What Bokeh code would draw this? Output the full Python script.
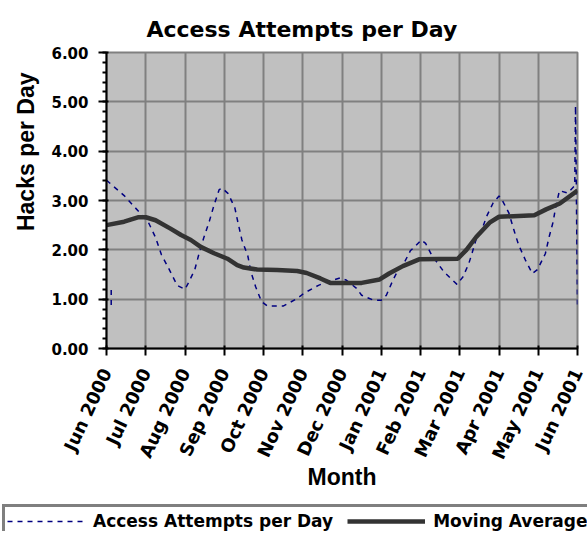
import math
from bokeh.plotting import figure
from bokeh.layouts import column, row
from bokeh.models import (Range1d, FixedTicker, SingleIntervalTicker, NumeralTickFormatter,
                          Legend, LegendItem, Title)
from bokeh.embed import file_html
from bokeh.resources import INLINE

# ---- data (x = months since Jun 2000) ----
months = ["Jun 2000", "Jul 2000", "Aug 2000", "Sep 2000", "Oct 2000", "Nov 2000",
          "Dec 2000", "Jan 2001", "Feb 2001", "Mar 2001", "Apr 2001", "May 2001", "Jun 2001"]

attempts_x = [0.12, 0.12, float("nan"),
              0.0, 0.13, 0.45, 0.85, 1.06, 1.25, 1.4, 1.6, 1.8, 2.0, 2.08, 2.25, 2.35, 2.48,
              2.62, 2.73, 2.87, 2.95, 3.1, 3.27, 3.35, 3.45, 3.6, 3.68, 3.8, 3.95, 4.1, 4.5,
              4.85, 5.0, 5.1, 5.4, 5.55, 5.78, 5.95, 6.1, 6.37, 6.5, 6.8, 7.0, 7.13, 7.3,
              7.43, 7.6, 7.74, 7.85, 8.02, 8.13, 8.28, 8.6, 8.93, 9.08, 9.23, 9.32, 9.43,
              9.57, 9.68, 9.85, 10.0, 10.06, 10.25, 10.38, 10.5, 10.68, 10.85, 10.98, 11.18,
              11.28, 11.38, 11.44, 11.54, 11.75, 11.93, 11.95, 12.0]
attempts_y = [0.88, 1.22, float("nan"),
              3.41, 3.32, 3.1, 2.75, 2.57, 2.25, 1.9, 1.6, 1.28, 1.2, 1.32, 1.6, 1.9, 2.25,
              2.58, 2.88, 3.22, 3.25, 3.14, 2.85, 2.55, 2.2, 1.88, 1.55, 1.25, 0.95, 0.86, 0.86,
              1.01, 1.1, 1.15, 1.28, 1.33, 1.39, 1.43, 1.39, 1.22, 1.08, 0.98, 0.98, 1.08, 1.39,
              1.59, 1.76, 1.98, 2.06, 2.2, 2.13, 1.9, 1.55, 1.3, 1.45, 1.72, 1.95, 2.25,
              2.42, 2.67, 2.95, 3.09, 3.04, 2.75, 2.4, 2.1, 1.78, 1.52, 1.6, 1.92,
              2.27, 2.57, 2.85, 3.2, 3.15, 3.3, 4.92, 0.8]

moving_x = [0.0, 0.45, 0.8, 1.0, 1.25, 1.63, 1.9, 2.15, 2.4, 2.74, 3.08, 3.33, 3.5, 3.84,
            4.35, 4.86, 5.1, 5.45, 5.7, 6.5, 6.96, 7.2, 7.55, 7.98, 8.95, 9.17, 9.42, 9.76,
            10.0, 10.9, 11.2, 11.55, 12.0]
moving_y = [2.5, 2.57, 2.66, 2.66, 2.6, 2.43, 2.3, 2.2, 2.06, 1.93, 1.82, 1.69, 1.64, 1.6,
            1.59, 1.57, 1.53, 1.42, 1.33, 1.33, 1.4, 1.52, 1.67, 1.81, 1.82, 2.0, 2.26, 2.55,
            2.67, 2.7, 2.82, 2.94, 3.2]

y_ticks = [0, 1, 2, 3, 4, 5, 6]

ATT_STYLE = dict(line_color="#000080", line_width=1.5, line_dash="5 5")
MA_STYLE = dict(line_color="#333333", line_width=4.5)

p = figure(width=587, height=502, output_backend="svg", toolbar_location=None,
           x_range=Range1d(0, len(months) - 1), y_range=Range1d(0, 6),
           min_border_left=106, min_border_right=10, min_border_top=52, min_border_bottom=154)

p.background_fill_color = "#C0C0C0"
p.border_fill_color = "white"
p.outline_line_color = "#808080"
p.outline_line_width = 2

# title
p.title.text = "Access Attempts per Day"
p.title.text_font = "DejaVu Sans"
p.title.text_font_style = "bold"
p.title.text_font_size = "22px"
p.title.text_color = "black"
p.title.align = "left"
p.title.offset = 40
p.title.standoff = 22

# x axis
xa = p.xaxis[0]
xa.ticker = FixedTicker(ticks=list(range(len(months))))
xa.major_label_overrides = {i: m for i, m in enumerate(months)}
xa.major_label_orientation = math.radians(65)
xa.major_label_text_font = "DejaVu Sans"
xa.major_label_text_font_style = "bold"
xa.major_label_text_font_size = "18px"
xa.major_label_text_color = "black"
xa.major_label_standoff = 14
xa.axis_line_color = "black"
xa.axis_line_width = 2
xa.major_tick_line_color = "black"
xa.major_tick_line_width = 2
xa.major_tick_out = 7
xa.major_tick_in = 3
xa.minor_tick_line_color = None
xa.axis_label = "Month"
xa.axis_label_text_font = "Liberation Sans"
xa.axis_label_text_font_style = "bold"
xa.axis_label_text_font_size = "23px"
xa.axis_label_text_color = "black"
xa.axis_label_standoff = -6

# y axis
ya = p.yaxis[0]
ya.ticker = SingleIntervalTicker(interval=1, num_minor_ticks=5)
ya.formatter = NumeralTickFormatter(format="0.00")
ya.major_label_text_font = "DejaVu Sans"
ya.major_label_text_font_style = "bold"
ya.major_label_text_font_size = "15px"
ya.major_label_text_color = "black"
ya.major_label_standoff = 10
ya.axis_line_color = "black"
ya.axis_line_width = 2
ya.major_tick_line_color = "black"
ya.major_tick_line_width = 2
ya.major_tick_out = 8
ya.major_tick_in = 2
ya.minor_tick_line_color = "black"
ya.minor_tick_line_width = 2
ya.minor_tick_out = 4
ya.minor_tick_in = 0

p.add_layout(Title(text="Hacks per Day", align="right", offset=20,
                   text_font="Liberation Sans", text_font_style="bold",
                   text_font_size="23px", text_color="black", standoff=19), "left")

# grids
p.xgrid.ticker = FixedTicker(ticks=list(range(len(months))))
p.ygrid.ticker = FixedTicker(ticks=y_ticks)
for g in (p.xgrid[0], p.ygrid[0]):
    g.grid_line_color = "#808080"
    g.grid_line_width = 2

p.line(attempts_x, attempts_y, **ATT_STYLE)
p.line(moving_x, moving_y, **MA_STYLE)

# legend strip below the chart (its own small figure; series lie outside its ranges)
lp = figure(width=587, height=29, output_backend="svg", toolbar_location=None,
            x_range=Range1d(100, 101), y_range=Range1d(100, 101),
            x_axis_type=None, y_axis_type=None, title=None,
            min_border_left=0, min_border_right=0, min_border_top=0, min_border_bottom=0)
lp.grid.visible = False
lp.outline_line_color = None
lp.background_fill_color = "white"
lp.border_fill_color = "white"
lr1 = lp.line(attempts_x, attempts_y, **ATT_STYLE)
lr2 = lp.line(moving_x, moving_y, **MA_STYLE)

legend = Legend(items=[LegendItem(label="Access Attempts per Day", renderers=[lr1]),
                       LegendItem(label="Moving Average", renderers=[lr2])],
                orientation="horizontal", location="top_left", margin=2,
                glyph_width=78, glyph_height=24, label_height=24, label_standoff=8,
                spacing=14, padding=2,
                label_text_font="DejaVu Sans", label_text_font_style="bold",
                label_text_font_size="17px", label_text_color="black",
                border_line_color="black", border_line_width=3,
                background_fill_color="white", background_fill_alpha=1.0)
lp.add_layout(legend, "center")

layout = column(p, row(lp), spacing=0)
open("out.html", "w").write(file_html(layout, INLINE))
